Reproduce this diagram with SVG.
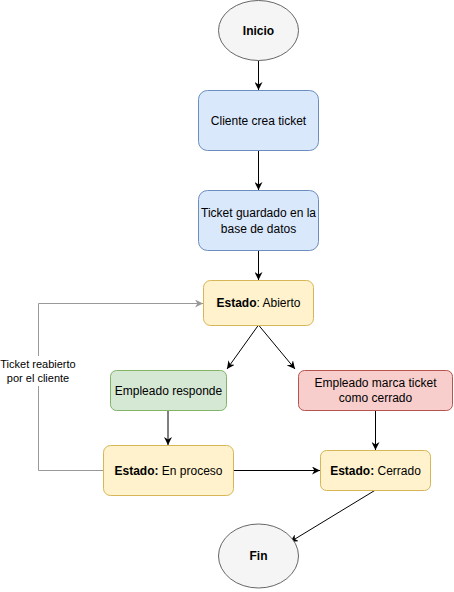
<svg xmlns="http://www.w3.org/2000/svg" width="454" height="592" viewBox="0 0 454 592">
<style>
text{font-family:"Liberation Sans",Arial,sans-serif;font-size:12px;fill:#000;text-anchor:middle;dominant-baseline:central}
.b{font-weight:bold}
.lbl{font-size:11px}
.blue{fill:#dae8fc;stroke:#6c8ebf}
.yel{fill:#fff2cc;stroke:#d6b656}
.grn{fill:#d5e8d4;stroke:#82b366}
.red{fill:#f8cecc;stroke:#b85450}
.term{fill:#f5f5f5;stroke:#666666}
.e{fill:none;stroke:#000;stroke-width:1}
.g{fill:none;stroke:#999999;stroke-width:1}
</style>
<defs>
<marker id="a" viewBox="0 0 10 10" refX="10" refY="5" markerWidth="8" markerHeight="8" markerUnits="userSpaceOnUse" orient="auto">
<path d="M0,0 L10,5 L0,10 L3,5 z" fill="#000"/>
</marker>
<marker id="ag" viewBox="0 0 10 10" refX="10" refY="5" markerWidth="8" markerHeight="8" markerUnits="userSpaceOnUse" orient="auto">
<path d="M0,0 L10,5 L0,10 L3,5 z" fill="#999999"/>
</marker>
</defs>
<g id="connectors">
<path class="e" d="M258.5,60.5 L258.5,90" marker-end="url(#a)"/>
<path class="e" d="M258.5,150 L258.5,190" marker-end="url(#a)"/>
<path class="e" d="M258.5,250 L258.5,280" marker-end="url(#a)"/>
<path class="e" d="M258.5,325 L227,369" marker-end="url(#a)"/>
<path class="e" d="M258.5,325 L295,369" marker-end="url(#a)"/>
<path class="e" d="M168,410 L168,445" marker-end="url(#a)"/>
<path class="e" d="M375.5,410 L375.5,450" marker-end="url(#a)"/>
<path class="e" d="M233,470.5 L320,470.5" marker-end="url(#a)"/>
<path class="e" d="M375.5,490 L290,542" marker-end="url(#a)"/>
<path class="g" d="M103,470.5 L38.5,470.5 L38.5,303.5 L203,303.5" marker-end="url(#ag)"/>
<rect x="0" y="356" width="78" height="30" fill="#fff"/>
<text class="lbl" x="38" y="364">Ticket reabierto</text>
<text class="lbl" x="38" y="377.5">por el cliente</text>
</g>
<g id="inicio">
<ellipse class="term" cx="258.5" cy="30.5" rx="40" ry="30"/>
<text class="b" x="258.5" y="30.5">Inicio</text>
</g>
<g id="cliente-crea">
<rect class="blue" x="198.5" y="90.5" width="120" height="60" rx="9"/>
<text x="258.5" y="120.5">Cliente crea ticket</text>
</g>
<g id="ticket-guardado">
<rect class="blue" x="198.5" y="190.5" width="120" height="60" rx="9"/>
<text x="258.5" y="212.5">Ticket guardado en la</text>
<text x="258.5" y="228.5">base de datos</text>
</g>
<g id="estado-abierto">
<rect class="yel" x="203.5" y="280.5" width="110" height="45" rx="7"/>
<text x="258.5" y="303"><tspan class="b">Estado</tspan>: Abierto</text>
</g>
<g id="empleado-responde">
<rect class="grn" x="110.5" y="370.5" width="116" height="40" rx="6"/>
<text x="168.5" y="390.5">Empleado responde</text>
</g>
<g id="empleado-marca">
<rect class="red" x="298.5" y="370.5" width="154" height="40" rx="6"/>
<text x="375.5" y="383">Empleado marca ticket</text>
<text x="375.5" y="398">como cerrado</text>
</g>
<g id="estado-proceso">
<rect class="yel" x="103.5" y="445.5" width="130" height="50" rx="7"/>
<text x="168.5" y="470.5"><tspan class="b">Estado:</tspan> En proceso</text>
</g>
<g id="estado-cerrado">
<rect class="yel" x="320.5" y="450.5" width="110" height="40" rx="6"/>
<text x="375.5" y="470.5"><tspan class="b">Estado:</tspan> Cerrado</text>
</g>
<g id="fin">
<ellipse class="term" cx="258.5" cy="556" rx="40" ry="32"/>
<text class="b" x="258.5" y="556">Fin</text>
</g>
</svg>
